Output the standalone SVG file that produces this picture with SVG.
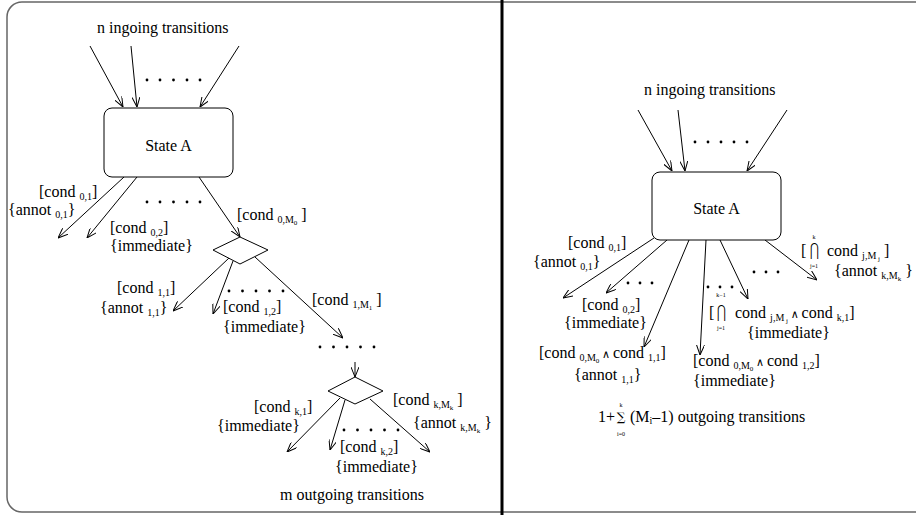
<svg xmlns="http://www.w3.org/2000/svg" width="916" height="515" viewBox="0 0 916 515" font-family="'Liberation Serif', 'DejaVu Serif', 'Times New Roman', serif">
<style>
text{font-family:'Liberation Serif','DejaVu Serif','Times New Roman',serif;font-size:16px;fill:#000}
.sub{font-size:10px}
.ss{font-size:7px}
.and{font-size:11px}
.lim{font-size:6px;text-anchor:middle}
.big{font-family:'DejaVu Serif','Liberation Serif',serif;text-anchor:middle}
.node{fill:#fff;stroke:#000;stroke-width:1}
.con line{stroke:#000;stroke-width:1;marker-end:url(#ah)}
.dots circle{fill:#000}
</style>
<defs>
<marker id="ah" markerUnits="userSpaceOnUse" viewBox="0 0 10 8" refX="10" refY="4" markerWidth="10" markerHeight="8" orient="auto">
<path d="M0,0 L10,4 L0,8" fill="none" stroke="#000" stroke-width="1"/>
</marker>
</defs>
<rect width="916" height="515" fill="#fff"/>
<path d="M930,2 H22 A15,15 0 0 0 7,17 V497 A15,15 0 0 0 22,512 H930" fill="none" stroke="#666" stroke-width="1.5"/>
<line x1="502" y1="0" x2="502" y2="515" stroke="#000" stroke-width="3"/>

<g id="connectors" class="con">
<line x1="90" y1="46" x2="123" y2="107"/>
<line x1="131" y1="46" x2="137" y2="107"/>
<line x1="239" y1="46" x2="200" y2="107"/>
<line x1="124" y1="177" x2="58" y2="238"/>
<line x1="137" y1="177" x2="87" y2="238"/>
<line x1="199" y1="177" x2="240" y2="237"/>
<line x1="229" y1="258" x2="173" y2="311"/>
<line x1="233" y1="261" x2="213" y2="314"/>
<line x1="255" y1="257" x2="343" y2="338"/>
<line x1="355" y1="362" x2="355" y2="377"/>
<line x1="340" y1="398" x2="287" y2="452"/>
<line x1="345" y1="400" x2="330" y2="450"/>
<line x1="370" y1="399" x2="430" y2="452"/>
<line x1="638" y1="110" x2="672" y2="171"/>
<line x1="678" y1="110" x2="685" y2="171"/>
<line x1="787" y1="110" x2="747" y2="171"/>
<line x1="654" y1="238" x2="563" y2="298"/>
<line x1="667" y1="240" x2="606" y2="293"/>
<line x1="689" y1="240" x2="644" y2="347"/>
<line x1="706" y1="240" x2="700" y2="355"/>
<line x1="720" y1="240" x2="748" y2="299"/>
<line x1="765" y1="240" x2="817" y2="280"/>
</g>

<g id="stateA-left">
<rect class="node" x="104" y="108" width="129" height="69" rx="8"/>
<text x="168.5" y="151" text-anchor="middle">State A</text>
</g>
<g id="choice-1"><polygon class="node" points="240,237 268,250 240,264 213,250"/></g>
<g id="choice-k"><polygon class="node" points="355,377 383,391 355,404 328,391"/></g>
<g id="stateA-right">
<rect class="node" x="652" y="172" width="129" height="68" rx="8"/>
<text x="716.5" y="214" text-anchor="middle">State A</text>
</g>

<g class="dots">
<circle cx="147" cy="80" r="1.4"/><circle cx="160" cy="80" r="1.4"/><circle cx="173.5" cy="80" r="1.4"/><circle cx="187" cy="80" r="1.4"/><circle cx="200" cy="80" r="1.4"/>
<circle cx="147" cy="202" r="1.4"/><circle cx="160" cy="202" r="1.4"/><circle cx="173.5" cy="202" r="1.4"/><circle cx="187" cy="202" r="1.4"/><circle cx="200" cy="202" r="1.4"/>
<circle cx="229" cy="291" r="1.4"/><circle cx="242.5" cy="291" r="1.4"/><circle cx="256" cy="291" r="1.4"/><circle cx="269.5" cy="291" r="1.4"/><circle cx="283" cy="291" r="1.4"/>
<circle cx="320" cy="347" r="1.4"/><circle cx="333.5" cy="347" r="1.4"/><circle cx="347" cy="347" r="1.4"/><circle cx="360.5" cy="347" r="1.4"/><circle cx="374" cy="347" r="1.4"/>
<circle cx="344" cy="430" r="1.4"/><circle cx="357.5" cy="430" r="1.4"/><circle cx="371" cy="430" r="1.4"/><circle cx="384.5" cy="430" r="1.4"/><circle cx="398" cy="430" r="1.4"/>
<circle cx="695" cy="142" r="1.4"/><circle cx="708" cy="142" r="1.4"/><circle cx="721" cy="142" r="1.4"/><circle cx="734" cy="142" r="1.4"/><circle cx="747" cy="142" r="1.4"/>
<circle cx="628" cy="283" r="1.4"/><circle cx="640" cy="283" r="1.4"/><circle cx="652" cy="283" r="1.4"/>
<circle cx="708" cy="287" r="1.4"/><circle cx="720" cy="287" r="1.4"/><circle cx="732" cy="287" r="1.4"/>
<circle cx="754" cy="272" r="1.4"/><circle cx="766" cy="272" r="1.4"/><circle cx="778" cy="272" r="1.4"/>
</g>

<g id="labels-left">
<text x="97" y="33">n ingoing transitions</text>
<text x="39" y="197">[cond <tspan class="sub" dy="3">0,1</tspan><tspan dy="-3">]</tspan></text>
<text x="8" y="215">{annot <tspan class="sub" dy="3">0,1</tspan><tspan dy="-3">}</tspan></text>
<text x="110" y="233">[cond <tspan class="sub" dy="3">0,2</tspan><tspan dy="-3">]</tspan></text>
<text x="110" y="251">{immediate}</text>
<text x="237" y="220">[cond <tspan class="sub" dy="3">0,M</tspan><tspan class="ss" dy="2">0</tspan><tspan dy="-5"> ]</tspan></text>
<text x="117" y="293">[cond <tspan class="sub" dy="3">1,1</tspan><tspan dy="-3">]</tspan></text>
<text x="100" y="313">{annot <tspan class="sub" dy="3">1,1</tspan><tspan dy="-3">}</tspan></text>
<text x="223" y="312">[cond <tspan class="sub" dy="3">1,2</tspan><tspan dy="-3">]</tspan></text>
<text x="223" y="332">{immediate}</text>
<text x="312" y="305">[cond <tspan class="sub" dy="3">1,M</tspan><tspan class="ss" dy="2">1</tspan><tspan dy="-5"> ]</tspan></text>
<text x="254" y="412">[cond <tspan class="sub" dy="3">k,1</tspan><tspan dy="-3">]</tspan></text>
<text x="217" y="431">{immediate}</text>
<text x="393" y="405">[cond <tspan class="sub" dy="3">k,M</tspan><tspan class="ss" dy="2">k</tspan><tspan dy="-5"> ]</tspan></text>
<text x="413" y="428">{annot <tspan class="sub" dy="3">k,M</tspan><tspan class="ss" dy="2">k</tspan><tspan dy="-5"> }</tspan></text>
<text x="340" y="452">[cond <tspan class="sub" dy="3">k,2</tspan><tspan dy="-3">]</tspan></text>
<text x="335" y="472">{immediate}</text>
<text x="280" y="500">m outgoing transitions</text>
</g>

<g id="labels-right">
<text x="644" y="95">n ingoing transitions</text>
<text x="568" y="248">[cond <tspan class="sub" dy="3">0,1</tspan><tspan dy="-3">]</tspan></text>
<text x="533" y="267">{annot <tspan class="sub" dy="3">0,1</tspan><tspan dy="-3">}</tspan></text>
<text x="582" y="310">[cond <tspan class="sub" dy="3">0,2</tspan><tspan dy="-3">]</tspan></text>
<text x="564" y="328">{immediate}</text>
<text x="539" y="358">[cond <tspan class="sub" dy="3">0,M</tspan><tspan class="ss" dy="2">0</tspan><tspan class="and" dy="-5"> ∧ </tspan><tspan>cond </tspan><tspan class="sub" dy="3">1,1</tspan><tspan dy="-3">]</tspan></text>
<text x="574" y="380">{annot <tspan class="sub" dy="3">1,1</tspan><tspan dy="-3">}</tspan></text>
<text x="693" y="366">[cond <tspan class="sub" dy="3">0,M</tspan><tspan class="ss" dy="2">0</tspan><tspan class="and" dy="-5"> ∧ </tspan><tspan>cond </tspan><tspan class="sub" dy="3">1,2</tspan><tspan dy="-3">]</tspan></text>
<text x="693" y="386">{immediate}</text>
<text x="709" y="318">[</text>
<text class="big" transform="translate(721,318) scale(0.6,1)" x="0" y="0" style="font-size:18px">⋂</text>
<text class="lim" x="721" y="297">k−1</text>
<text class="lim" x="721" y="330">j=1</text>
<text x="735" y="318">cond <tspan class="sub" dy="3">j,M</tspan><tspan class="ss" dy="2"> j</tspan><tspan class="and" dy="-5"> ∧ </tspan><tspan>cond </tspan><tspan class="sub" dy="3">k,1</tspan><tspan dy="-3">]</tspan></text>
<text x="747" y="338">{immediate}</text>
<text x="801" y="256">[</text>
<text class="big" transform="translate(814,256) scale(0.6,1)" x="0" y="0" style="font-size:18px">⋂</text>
<text class="lim" x="814" y="239">k</text>
<text class="lim" x="814" y="268">j=1</text>
<text x="827" y="256">cond <tspan class="sub" dy="3">j,M</tspan><tspan class="ss" dy="2"> j</tspan><tspan dy="-5">  ]</tspan></text>
<text x="834" y="276">{annot <tspan class="sub" dy="3">k,M</tspan><tspan class="ss" dy="2">k</tspan><tspan dy="-5"> }</tspan></text>
<text x="598" y="422">1+</text>
<text class="big" x="621" y="421" style="font-size:12px">∑</text>
<text class="lim" x="621" y="407">k</text>
<text class="lim" x="621" y="436">i=0</text>
<text x="630" y="422">(M<tspan class="sub" dy="2">i</tspan><tspan dy="-2">–1)  outgoing transitions</tspan></text>
</g>
</svg>
